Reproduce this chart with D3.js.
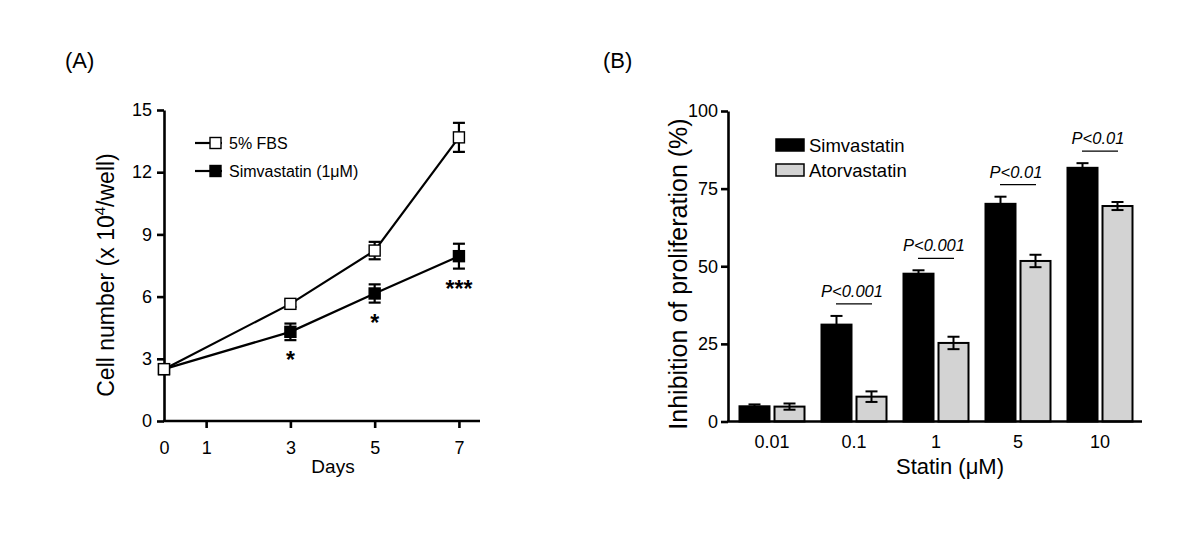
<!DOCTYPE html>
<html><head><meta charset="utf-8">
<script src="https://cdn.jsdelivr.net/npm/d3@7/dist/d3.min.js"></script>
<style>
html,body{margin:0;padding:0;background:#fff;}
text{font-family:"Liberation Sans",Arial,sans-serif;fill:#000;}
</style></head>
<body>
<svg id="c" width="1200" height="536"></svg>
<script>
// ---- Panel A data ----
const days = [0, 3, 5, 7];
const fbsMean = [2.5, 5.65, 8.22, 13.68];
const fbsErr = [0.15, 0.15, 0.42, 0.7];
const simMean = [2.5, 4.3, 6.15, 7.95];
const simErr = [0.15, 0.4, 0.44, 0.6];
const sigMarks = ["", "*", "*", "***"];
const dayTicks = [0, 1, 3, 5, 7];
const cellTicks = [0, 3, 6, 9, 12, 15];
// ---- Panel B data ----
const doses = ["0.01", "0.1", "1", "5", "10"];
const simvaVals = [4.9, 31.2, 47.6, 70.1, 81.7];
const simvaErr = [0.6, 2.8, 1.1, 2.3, 1.5];
const atorVals = [4.8, 8.0, 25.3, 51.7, 69.4];
const atorErr = [1.0, 1.7, 2.0, 2.0, 1.3];
const pLabels = ["", "P<0.001", "P<0.001", "P<0.01", "P<0.01"];
const inhibTicks = [0, 25, 50, 75, 100];

const FONT = "Liberation Sans, Arial, sans-serif";
const svg = d3.select("#c");
svg.append("rect").attr("width",1200).attr("height",536).attr("fill","#fff");

// ================= Panel A =================
const xA = d3.scaleLinear().domain([0, 7.5]).range([164, 480]);
const yA = d3.scaleLinear().domain([0, 15]).range([421, 110]);
const gA = svg.append("g");

gA.append("text").attr("x", 65).attr("y", 68).attr("font-size", 22).text("(A)");

const yAx = gA.append("g").attr("transform", `translate(${xA(0)},0)`)
  .call(d3.axisLeft(yA).tickValues(cellTicks).tickSize(7).tickPadding(5).tickSizeOuter(0));
const xAx = gA.append("g").attr("transform", `translate(0,${yA(0)})`)
  .call(d3.axisBottom(xA).tickValues(dayTicks).tickSize(7).tickPadding(13).tickSizeOuter(0));
xAx.selectAll(".tick line").filter(d => d === 0).remove();
[yAx, xAx].forEach(ax => {
  ax.select(".domain").attr("stroke", "#000").attr("stroke-width", 2.6);
  ax.selectAll(".tick line").attr("stroke", "#000").attr("stroke-width", 2.6);
  ax.selectAll(".tick text").attr("font-size", 18).attr("font-family", FONT).attr("fill", "#000");
});
xAx.select(".domain").attr("d", `M${xA(0)-1},0H${xA(7.5)}`);

gA.append("text").attr("x", 333).attr("y", 473).attr("text-anchor", "middle").attr("font-size", 19).text("Days");

const ylabA = gA.append("text").attr("transform", "translate(114,275) rotate(-90)")
  .attr("text-anchor", "middle").attr("font-size", 23);
ylabA.append("tspan").text("Cell number (x 10");
ylabA.append("tspan").attr("dy", -9).attr("font-size", 15).text("4");
ylabA.append("tspan").attr("dy", 9).text("/well)");

function drawSeries(means, errs, filled) {
  const pts = days.map((d, i) => ({ d, m: means[i], e: errs[i], s: sigMarks[i] }));
  const g = gA.append("g");
  g.append("path").datum(pts)
    .attr("d", d3.line().x(p => xA(p.d)).y(p => yA(p.m)))
    .attr("fill", "none").attr("stroke", "#000").attr("stroke-width", 2.2);
  pts.forEach(p => {
    const x = xA(p.d), y1 = yA(p.m + p.e), y2 = yA(p.m - p.e);
    g.append("line").attr("x1", x).attr("x2", x).attr("y1", y1).attr("y2", y2).attr("stroke", "#000").attr("stroke-width", 2.2);
    [y1, y2].forEach(yy => g.append("line").attr("x1", x - 6).attr("x2", x + 6).attr("y1", yy).attr("y2", yy).attr("stroke", "#000").attr("stroke-width", 2.2));
  });
  g.selectAll("rect").data(pts).join("rect")
    .attr("x", p => xA(p.d) - 5.5).attr("y", p => yA(p.m) - 5.5)
    .attr("width", 11).attr("height", 11)
    .attr("fill", filled ? "#000" : "#fff").attr("stroke", "#000").attr("stroke-width", 1.4);
  return pts;
}
const simPts = drawSeries(simMean, simErr, true);
drawSeries(fbsMean, fbsErr, false);
gA.append("g").selectAll("text").data(simPts.filter(p => p.s)).join("text")
  .attr("x", p => xA(p.d)).attr("y", p => yA(p.m - p.e) + 28)
  .attr("text-anchor", "middle").attr("font-size", 23).attr("font-weight", "bold").text(p => p.s);

// legend A
const legA = [{ t: "5% FBS", f: false, y: 143 }, { t: "Simvastatin (1\u03bcM)", f: true, y: 171 }];
legA.forEach(l => {
  gA.append("line").attr("x1", 195).attr("x2", 222).attr("y1", l.y).attr("y2", l.y).attr("stroke", "#000").attr("stroke-width", 2.2);
  gA.append("rect").attr("x", 210).attr("y", l.y - 5.5).attr("width", 11).attr("height", 11)
    .attr("fill", l.f ? "#000" : "#fff").attr("stroke", "#000").attr("stroke-width", 1.4);
  gA.append("text").attr("x", 229).attr("y", l.y + 5.5).attr("font-size", 16).text(l.t);
});

// ================= Panel B =================
const xB = d3.scaleBand().domain(doses).range([731, 1141]).padding(0);
const yB = d3.scaleLinear().domain([0, 100]).range([421.5, 111]);
const gB = svg.append("g");
gB.append("text").attr("x", 603).attr("y", 68).attr("font-size", 22).text("(B)");

const barW = 30, gap = 5;
const bars = [];
doses.forEach((d, i) => {
  const c = xB(d) + xB.bandwidth() / 2;
  bars.push({ x: c - gap / 2 - barW, v: simvaVals[i], e: simvaErr[i], fill: "#000" });
  bars.push({ x: c + gap / 2, v: atorVals[i], e: atorErr[i], fill: "#d3d3d3" });
});
gB.append("g").selectAll("rect").data(bars).join("rect")
  .attr("x", b => b.x).attr("y", b => yB(b.v)).attr("width", barW).attr("height", b => yB(0) - yB(b.v))
  .attr("fill", b => b.fill).attr("stroke", "#000").attr("stroke-width", 2);
const ebB = gB.append("g");
bars.forEach(b => {
  const x = b.x + barW / 2, y1 = yB(b.v + b.e), y2 = yB(b.v - b.e);
  ebB.append("line").attr("x1", x).attr("x2", x).attr("y1", y1).attr("y2", y2).attr("stroke", "#000").attr("stroke-width", 2);
  [y1, y2].forEach(yy => ebB.append("line").attr("x1", x - 6).attr("x2", x + 6).attr("y1", yy).attr("y2", yy).attr("stroke", "#000").attr("stroke-width", 2));
});

const yBx = gB.append("g").attr("transform", "translate(728,0)")
  .call(d3.axisLeft(yB).tickValues(inhibTicks).tickSize(7).tickPadding(3).tickSizeOuter(0));
const xBx = gB.append("g").attr("transform", `translate(0,${yB(0)})`)
  .call(d3.axisBottom(xB).tickSize(0).tickPadding(14));
[yBx, xBx].forEach(ax => {
  ax.select(".domain").attr("stroke", "#000").attr("stroke-width", 2.6);
  ax.selectAll(".tick line").attr("stroke", "#000").attr("stroke-width", 2.6);
  ax.selectAll(".tick text").attr("font-size", 18).attr("font-family", FONT).attr("fill", "#000");
});
xBx.select(".domain").attr("d", "M727,0H1142");

gB.append("text").attr("x", 950).attr("y", 474).attr("text-anchor", "middle").attr("font-size", 22).text("Statin (\u03bcM)");
gB.append("text").attr("transform", "translate(687,274) rotate(-90)").attr("text-anchor", "middle")
  .attr("font-size", 25).text("Inhibition of proliferation (%)");

// p-value annotations
doses.forEach((d, i) => {
  if (!pLabels[i]) return;
  const c = xB(d) + xB.bandwidth() / 2;
  const ly = yB(simvaVals[i] + simvaErr[i]) - 12;
  gB.append("line").attr("x1", c - 18).attr("x2", c + 18).attr("y1", ly).attr("y2", ly).attr("stroke", "#000").attr("stroke-width", 1.2);
  gB.append("text").attr("x", c - 2).attr("y", ly - 7).attr("text-anchor", "middle")
    .attr("font-size", 16.5).attr("font-style", "italic").text(pLabels[i]);
});

// legend B
const legB = [{ t: "Simvastatin", f: "#000", y: 145 }, { t: "Atorvastatin", f: "#d3d3d3", y: 170 }];
legB.forEach(l => {
  gB.append("rect").attr("x", 776).attr("y", l.y - 6).attr("width", 28).attr("height", 12)
    .attr("fill", l.f).attr("stroke", "#000").attr("stroke-width", 1.5);
  gB.append("text").attr("x", 809).attr("y", l.y + 6.5).attr("font-size", 18.5).text(l.t);
});
</script>
</body></html>
